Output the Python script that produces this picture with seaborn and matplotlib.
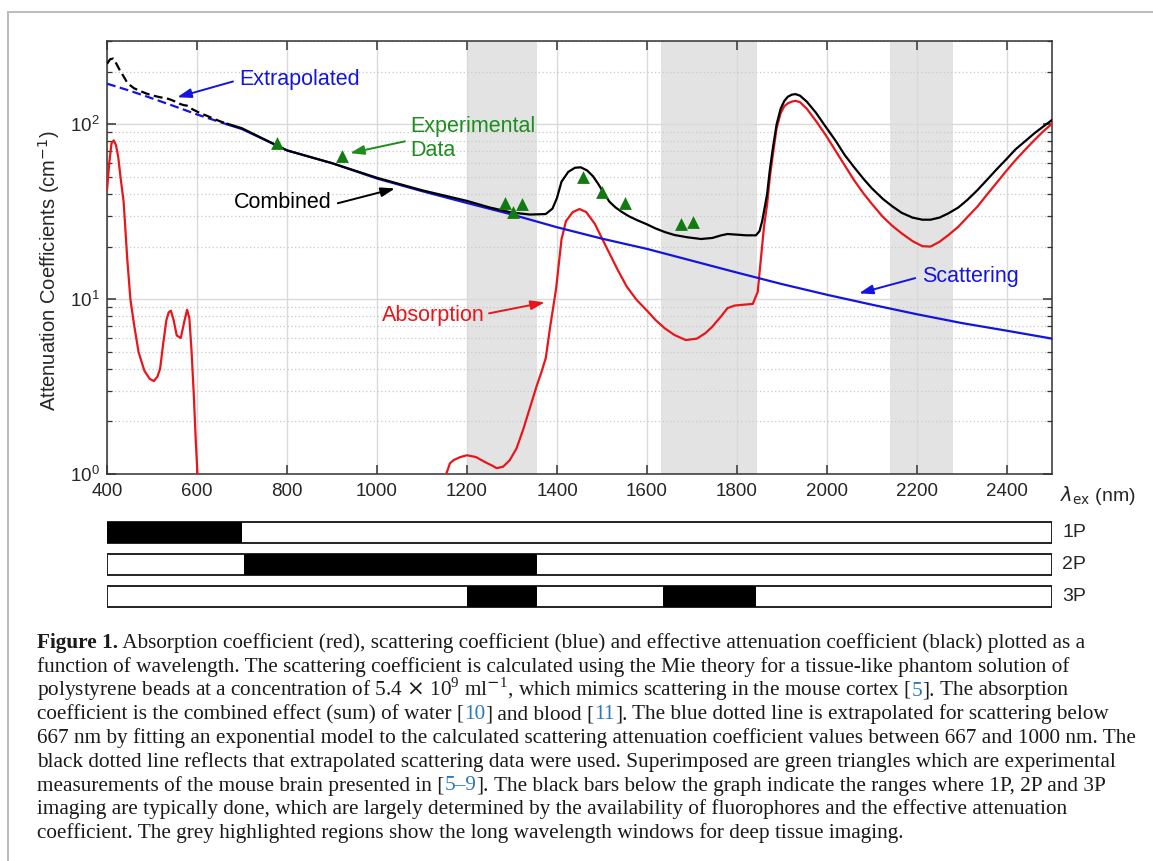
import matplotlib
matplotlib.use('Agg')
import matplotlib.pyplot as plt
from matplotlib.lines import Line2D
import seaborn as sns

# --- data (wavelength nm, coefficient cm^-1) ---
scat_extrap_nm = [400, 450, 500, 550, 600, 667]
scat_extrap = [171, 156, 141, 127, 114, 100]
scat_nm = [667, 700, 800, 900, 1000, 1100, 1200, 1300, 1400, 1500, 1600, 1700,
           1800, 1900, 2000, 2100, 2200, 2300, 2400, 2500]
scat = [100, 94, 71, 60, 49, 41.5, 35.5, 30.5, 25.8, 22.2, 19.4, 16.6,
        14.2, 12.2, 10.6, 9.3, 8.2, 7.3, 6.6, 5.95]

comb_extrap_nm = [400, 407, 414, 421, 429, 437, 444, 452, 460, 474, 488, 503, 518,
                  532, 540, 552, 562, 570, 578, 590, 607, 622, 636, 652, 667]
comb_extrap = [222, 236, 238, 222, 203, 188, 175, 167, 161, 155, 150, 146, 143,
               141, 139, 135, 131, 129, 128, 122, 116, 112, 108, 104, 101]
comb_nm = [667, 700, 800, 900, 1000, 1100, 1200, 1250, 1300, 1340, 1375, 1390, 1400,
           1410, 1425, 1440, 1453, 1467, 1480, 1492, 1505, 1517, 1530, 1543, 1560,
           1577, 1600, 1619, 1640, 1661, 1690, 1720, 1745, 1765, 1779, 1800, 1820,
           1842, 1850, 1856, 1862, 1867, 1873, 1880, 1888, 1897, 1905, 1913, 1922,
           1930, 1940, 1955, 1975, 1997, 2020, 2039, 2060, 2082, 2100, 2124, 2145,
           2166, 2190, 2212, 2230, 2250, 2270, 2292, 2312, 2334, 2355, 2376, 2398,
           2419, 2440, 2461, 2480, 2500]
comb = [101, 95, 71, 60, 49.5, 42, 36.5, 33.5, 31.3, 30.5, 30.7, 33, 38,
        47, 53.5, 56.5, 56.8, 54.5, 50.5, 45.5, 40, 36, 33.5, 31.7, 29.8,
        28.4, 26.8, 25.4, 24.2, 23.3, 22.6, 22.1, 22.4, 23.2, 23.6, 23.4, 23.2,
        23.2, 24.5, 28, 34, 40, 55, 74, 100, 123, 136, 144, 148,
        149, 146, 135, 117, 97, 80, 67, 57, 48.5, 43, 37.5, 34,
        31.2, 29.3, 28.5, 28.5, 29.3, 31, 33.5, 37, 42, 48, 55, 63,
        72, 80, 89, 97, 106]

absorb_vis_nm = [400, 405, 410, 415, 420, 425, 430, 437, 445, 452, 460, 470, 483,
                 495, 504, 512, 518, 525, 532, 537, 542, 548, 555, 564, 572, 578,
                 583, 588, 593, 597, 601, 604]
absorb_vis = [42, 60, 78, 81, 76, 65, 50, 36, 17, 10, 7.2, 5.0, 3.9,
              3.5, 3.4, 3.6, 4.0, 5.6, 7.6, 8.4, 8.6, 7.6, 6.2, 6.0, 7.5, 8.7,
              7.8, 5.0, 2.8, 1.6, 1.0, 0.8]
absorb_nir_nm = [1148, 1155, 1162, 1170, 1185, 1200, 1220, 1240, 1255, 1266, 1280,
                 1295, 1310, 1325, 1340, 1355, 1365, 1375, 1385, 1398, 1410, 1420, 1435,
                 1450, 1465, 1484, 1509, 1535, 1555, 1577, 1600, 1619, 1640, 1661,
                 1686, 1711, 1730, 1745, 1765, 1779, 1795, 1815, 1835, 1846, 1854, 1860,
                 1867, 1873, 1880, 1888, 1897, 1905, 1913, 1922, 1930, 1940, 1955,
                 1975, 1997, 2020, 2039, 2060, 2082, 2100, 2124, 2145, 2166, 2190,
                 2212, 2230, 2250, 2270, 2292, 2312, 2334, 2355, 2376, 2398, 2419,
                 2440, 2461, 2480, 2500]
absorb_nir = [0.9, 1.02, 1.15, 1.2, 1.25, 1.28, 1.25, 1.17, 1.12, 1.08, 1.1,
              1.2, 1.4, 1.8, 2.4, 3.2, 3.8, 4.6, 7.0, 11.5, 22, 28, 31.5,
              32.8, 31.5, 27, 20, 14.7, 11.8, 9.9, 8.6, 7.6, 6.8, 6.24,
              5.84, 5.95, 6.4, 6.96, 8.0, 8.9, 9.2, 9.3, 9.4, 11.0, 18, 26,
              35, 50, 68, 95, 116, 127, 132, 135, 136.5, 134, 123,
              105, 87, 70, 58.5, 48, 40, 35, 29.6, 26.3, 23.8, 21.5,
              20.1, 20.0, 21.3, 23.3, 26, 29.5, 33.8, 39.5, 46, 54, 62.5,
              71.5, 81.4, 91, 101]

exp_nm = [778, 923, 1284, 1303, 1323, 1457, 1501, 1550, 1675, 1702]
exp_val = [77.9, 65.9, 35.6, 31.7, 34.9, 49.8, 41.2, 35.6, 26.8, 27.5]

window_start = [1200, 1630, 2140]
window_end = [1355, 1845, 2280]

bar_rows = ['1P', '2P', '3P']
bar_ranges = [[(400, 700)], [(705, 1355)], [(1200, 1355), (1635, 1842)]]

caption_lines = [
    [('Figure 1.', 'k', 'bold'),
     (' Absorption coefficient (red), scattering coefficient (blue) and effective attenuation coefficient (black) plotted as a', 'k', 'normal')],
    [('function of wavelength. The scattering coefficient is calculated using the Mie theory for a tissue-like phantom solution of', 'k', 'normal')],
    [(r'polystyrene beads at a concentration of 5.4 $\times$ 10$^{\mathdefault{9}}$ ml$^{-\mathdefault{1}}$, which mimics scattering in the mouse cortex [', 'k', 'normal'),
     ('5', 'ref', 'normal'), ('].', 'k', 'normal'), (' The absorption', 'k', 'normal')],
    [('coefficient is the combined effect (sum) of water [', 'k', 'normal'), ('10', 'ref', 'normal'),
     (']', 'k', 'normal'), (' and blood [', 'k', 'normal'), ('11', 'ref', 'normal'),
     ('].', 'k', 'normal'), (' The blue dotted line is extrapolated for scattering below', 'k', 'normal')],
    [('667 nm by fitting an exponential model to the calculated scattering attenuation coefficient values between 667 and 1000 nm. The', 'k', 'normal')],
    [('black dotted line reflects that extrapolated scattering data were used. Superimposed are green triangles which are experimental', 'k', 'normal')],
    [('measurements of the mouse brain presented in [', 'k', 'normal'), ('5\u20139', 'ref', 'normal'),
     ('].', 'k', 'normal'), (' The black bars below the graph indicate the ranges where 1P, 2P and 3P', 'k', 'normal')],
    [('imaging are typically done, which are largely determined by the availability of fluorophores and the effective attenuation', 'k', 'normal')],
    [('coefficient. The grey highlighted regions show the long wavelength windows for deep tissue imaging.', 'k', 'normal')],
]

# --- style ---
sns.set_theme(style='white')
plt.rcParams['font.family'] = ['Liberation Sans', 'DejaVu Sans']
plt.rcParams['axes.axisbelow'] = 'line'

RED = '#e8161b'
BLUE = '#1414e0'
GREEN = '#127a12'
TXT_GREEN = '#1f8c1f'
INK = '#262626'
REF = '#2a7ab8'

W, H = 1153, 861
fig = plt.figure(figsize=(W / 100, H / 100), dpi=100)

ax = fig.add_axes([107 / W, 1 - 474 / H, 945 / W, 433 / H])
ax.set_yscale('log')

for a, b in zip(window_start, window_end):
    ax.axvspan(a, b, color='#e3e3e3', lw=0, zorder=1)

sns.lineplot(x=absorb_vis_nm, y=absorb_vis, ax=ax, color=RED, lw=1.6, estimator=None, sort=False, zorder=3)
sns.lineplot(x=absorb_nir_nm, y=absorb_nir, ax=ax, color=RED, lw=1.6, estimator=None, sort=False, zorder=3)
sns.lineplot(x=scat_extrap_nm, y=scat_extrap, ax=ax, color=BLUE, lw=1.6, ls=(0, (4, 2)), estimator=None, sort=False, zorder=3)
sns.lineplot(x=scat_nm, y=scat, ax=ax, color=BLUE, lw=1.6, estimator=None, sort=False, zorder=3)
sns.lineplot(x=comb_extrap_nm, y=comb_extrap, ax=ax, color='black', lw=1.6, ls=(0, (4, 2)), estimator=None, sort=False, zorder=4)
sns.lineplot(x=comb_nm, y=comb, ax=ax, color='black', lw=1.6, estimator=None, sort=False, zorder=4)
sns.scatterplot(x=exp_nm, y=exp_val, ax=ax, marker='^', s=85, color=GREEN, edgecolor=GREEN, linewidth=0, zorder=5)

ax.set_xlim(400, 2500)
ax.set_ylim(1, 300)
ax.set_xticks(range(400, 2600, 200))
ax.tick_params(which='major', direction='in', length=6.5, width=1.1, color='#333333',
               labelsize=13.5, labelcolor=INK, top=True, right=True, bottom=True, left=True)
ax.tick_params(which='minor', direction='in', length=3.5, width=0.9, color='#333333', right=True, left=True)
ax.tick_params(axis='x', which='minor', bottom=False, top=False)
ax.tick_params(axis='x', pad=6.5)
ax.tick_params(axis='y', pad=5.5)
ax.grid(which='major', axis='both', color='#dadada', lw=1.0, ls='-')
ax.grid(which='minor', axis='y', color='#c8c8c8', lw=0.9, ls=(0, (1, 2)))
for s in ax.spines.values():
    s.set_color('#333333')
    s.set_linewidth(1.1)
ax.set_xlabel('')
ax.set_ylabel(r'Attenuation Coefficients (cm$^{-1}$)', fontsize=14.5, color=INK)
ax.yaxis.set_label_coords(-0.0476, 0.47)

arrow = dict(arrowstyle='-|>,head_length=0.6,head_width=0.2', lw=1.4, shrinkA=0, shrinkB=0, mutation_scale=14)
afs = 15.5
ax.text(693, 181, 'Extrapolated', color=BLUE, fontsize=afs, ha='left', va='center')
ax.annotate('', xy=(556, 143), xytext=(680, 176), arrowprops=dict(arrow, color=BLUE))
ax.text(1073, 83, 'Experimental\nData', color=TXT_GREEN, fontsize=afs, ha='left', va='center', linespacing=1.15)
ax.annotate('', xy=(940, 68.5), xytext=(1062, 80), arrowprops=dict(arrow, color=TXT_GREEN))
ax.text(900, 35.8, 'Combined', color='black', fontsize=afs, ha='right', va='center')
ax.annotate('', xy=(1040, 43), xytext=(913, 35.4), arrowprops=dict(arrow, color='black'))
ax.text(1240, 8.1, 'Absorption', color=RED, fontsize=afs, ha='right', va='center')
ax.annotate('', xy=(1373, 9.6), xytext=(1249, 8.3), arrowprops=dict(arrow, color=RED))
ax.text(2211, 13.4, 'Scattering', color=BLUE, fontsize=afs, ha='left', va='center')
ax.annotate('', xy=(2071, 10.8), xytext=(2196, 13.2), arrowprops=dict(arrow, color=BLUE))

fig.text(1060 / W, 1 - 495 / H, r'$\lambda_{\mathrm{ex}}$ (nm)', fontsize=14, color=INK, ha='left', va='center')

# --- excitation range bars ---
bx = fig.add_axes([107 / W, 1 - 612.5 / H, 945 / W, 96 / H])
for i, (row, ranges) in enumerate(zip(bar_rows, bar_ranges)):
    bx.barh(i, 2100, left=400, height=0.66, color='white', edgecolor='#222222', lw=1.4, zorder=1)
    for a, b in ranges:
        bx.barh(i, b - a, left=a, height=0.66, color='black', lw=0, zorder=2)
    bx.text(1.0106, i, row, transform=bx.get_yaxis_transform(), fontsize=14, color=INK,
            ha='left', va='center')
bx.set_xlim(400, 2500)
bx.set_ylim(2.5, -0.5)
bx.axis('off')

# --- page frame ---
fig.add_artist(Line2D([8 / W, 8 / W], [0, 1 - 12 / H], color='#bdbdbd', lw=1.5))
fig.add_artist(Line2D([8 / W, 1], [1 - 12 / H, 1 - 12 / H], color='#bdbdbd', lw=1.5))

# --- caption ---
serif = ['Liberation Serif', 'DejaVu Serif']
renderer = fig.canvas.get_renderer()
probe = fig.text(0, 0, caption_lines[4][0][0], fontsize=12, family=serif)
cap_size = 12 * 1095 / probe.get_window_extent(renderer).width
probe.remove()

x0, y0, dy = 37, 648, 23.75
for k, segs in enumerate(caption_lines):
    x = x0
    for txt, col, wt in segs:
        t = fig.text(x / W, 1 - (y0 + k * dy) / H, txt, fontsize=cap_size, family=serif,
                     color=REF if col == 'ref' else '#1a1a1a', fontweight=wt,
                     ha='left', va='baseline')
        x += t.get_window_extent(renderer).width

fig.savefig('out.png', dpi=100)
